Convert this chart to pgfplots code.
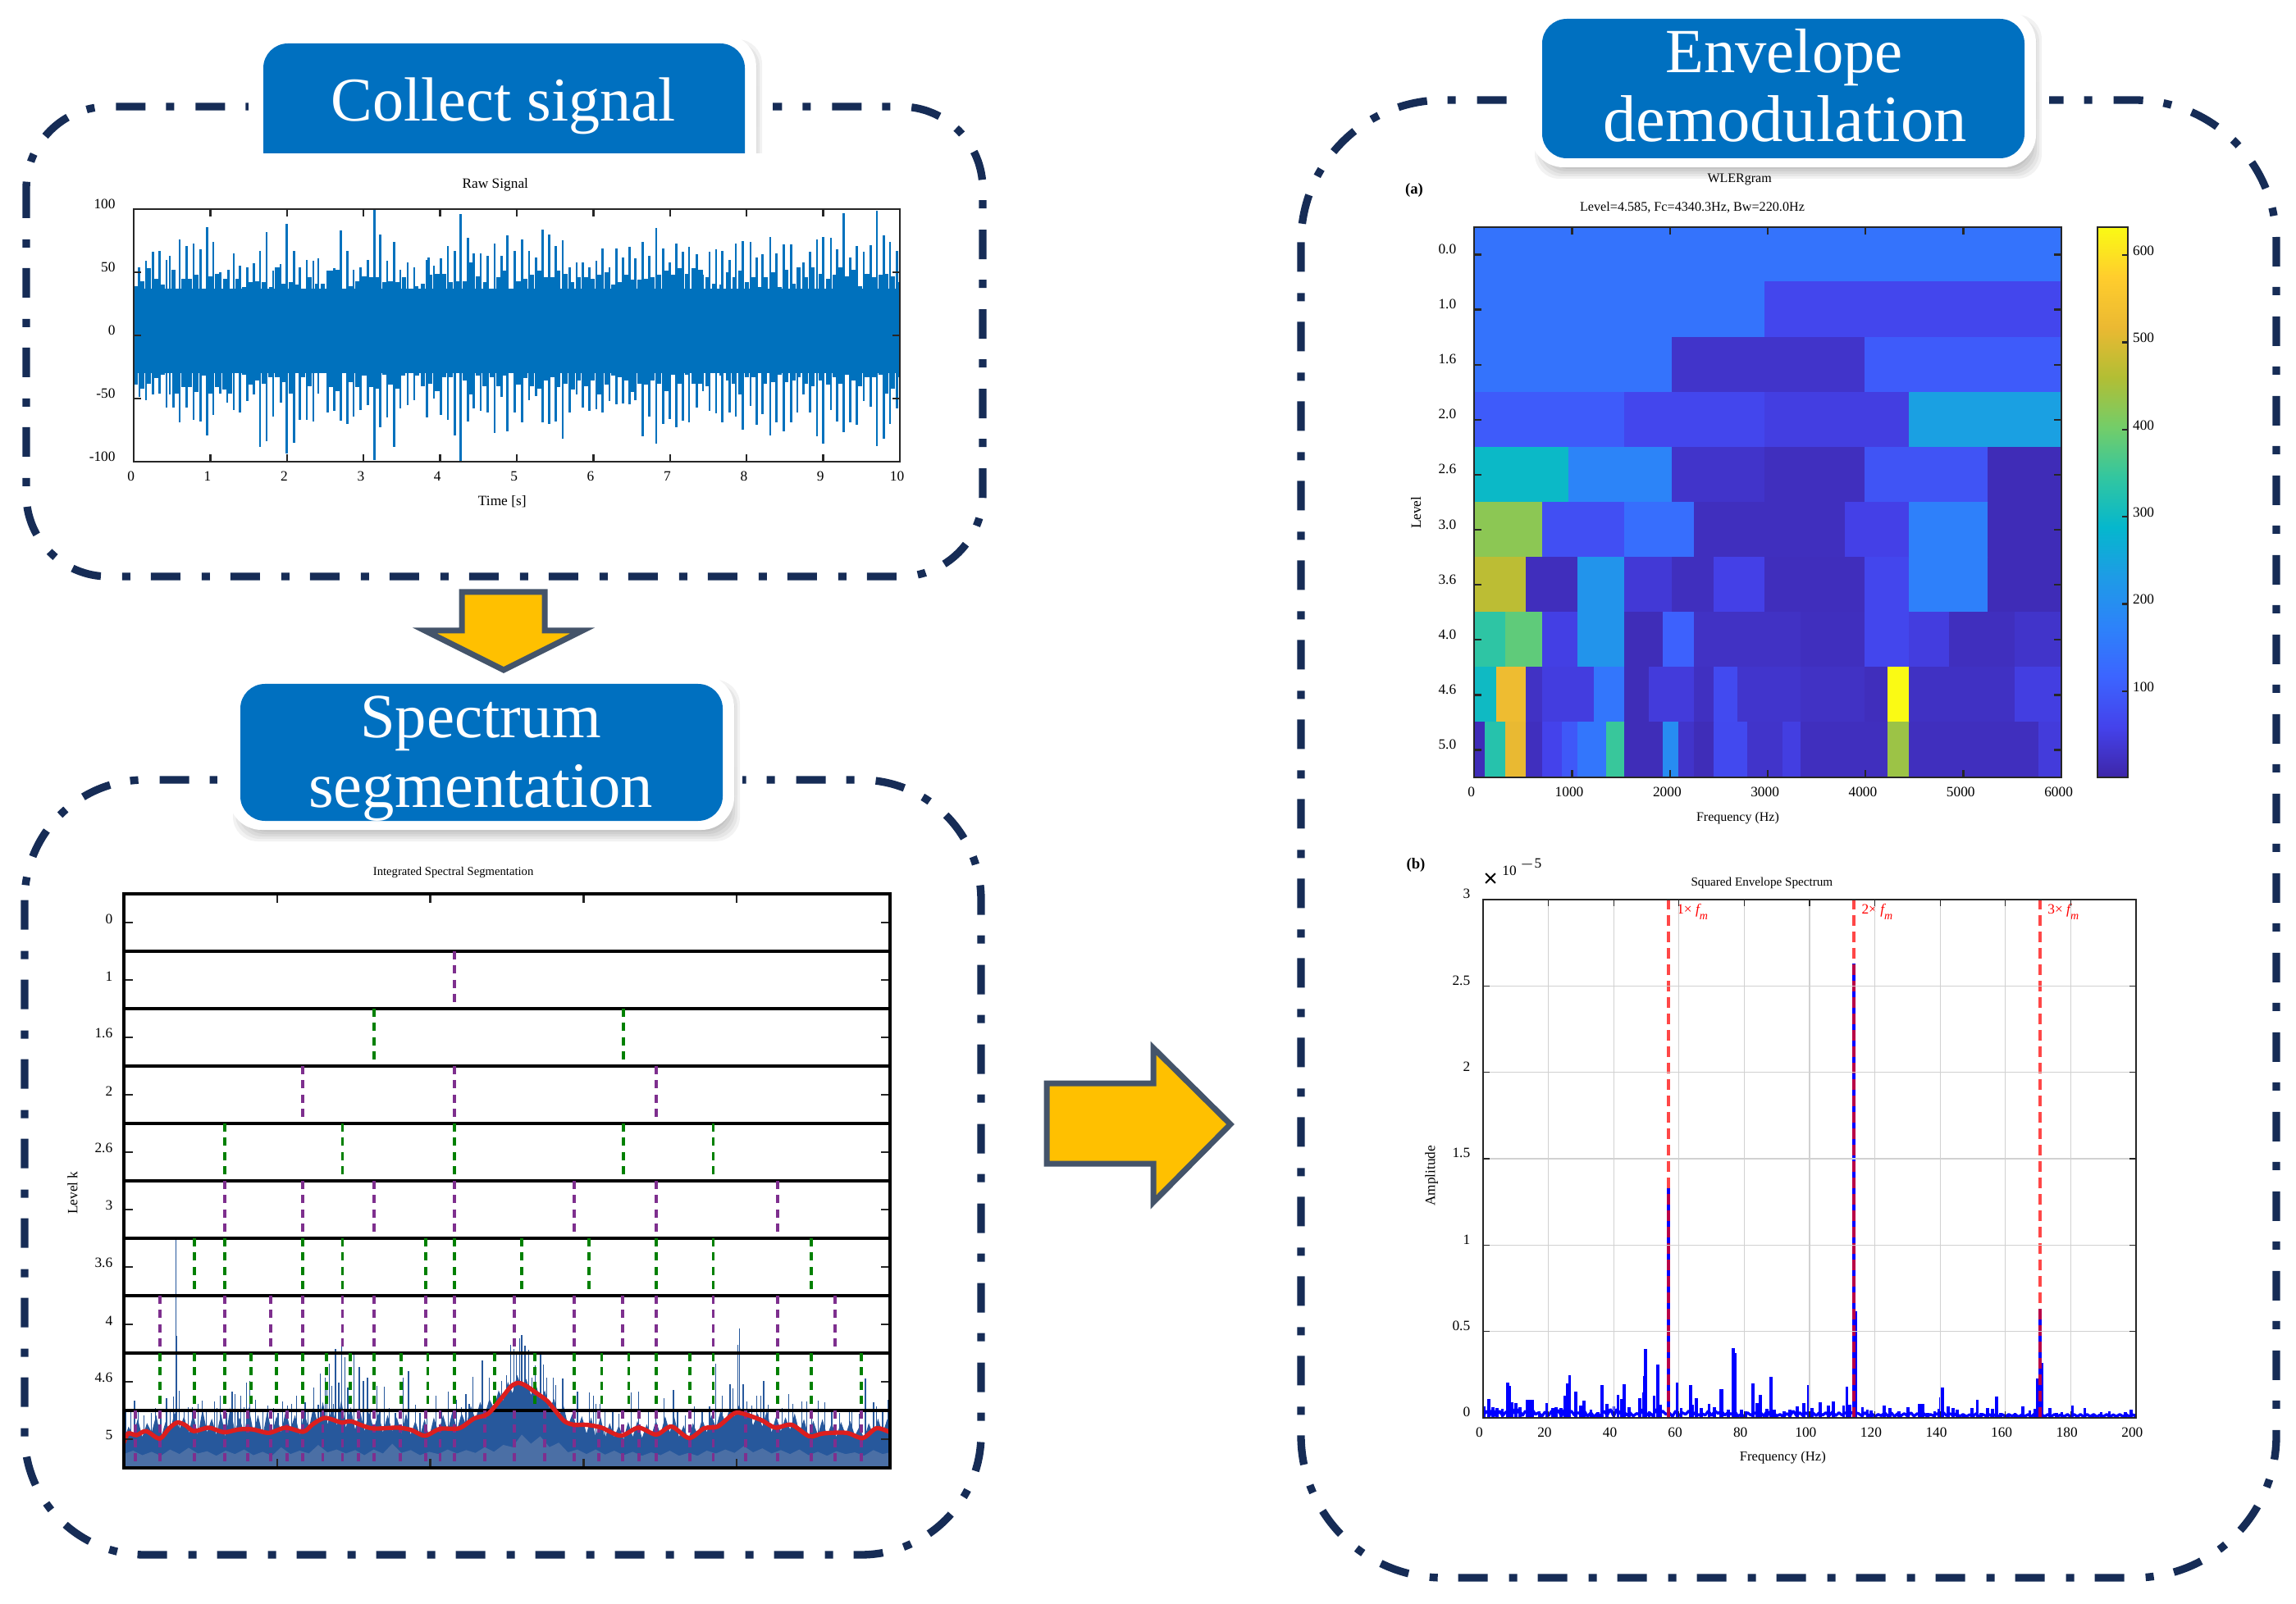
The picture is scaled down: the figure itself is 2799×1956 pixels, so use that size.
\documentclass[border=0pt]{standalone}
\usepackage{fontspec}
\setmainfont{Liberation Serif}
\newfontfamily\sansf{Liberation Sans}
\usepackage{pgfplots}
\pgfplotsset{compat=1.18}
\usetikzlibrary{calc}

\definecolor{framec}{RGB}{22,44,86}
\definecolor{boxc}{RGB}{0,112,192}
\definecolor{arrowf}{RGB}{255,192,0}
\definecolor{arrowb}{RGB}{68,84,106}
\definecolor{axc}{RGB}{38,38,38}
\definecolor{rawc}{RGB}{0,113,189}
\definecolor{specd}{RGB}{39,88,156}
\definecolor{specl}{RGB}{75,111,165}
\definecolor{purp}{RGB}{126,47,142}
\definecolor{grn}{RGB}{0,128,0}
\definecolor{redl}{RGB}{220,30,30}

\newcommand{\sm}{\fontsize{5.2}{6}\selectfont}
\newcommand{\titlebox}[4]{%
  \foreach \g in {0,3,...,15} {
    \fill[black,opacity=.05,rounded corners=9pt] ({#1+6-\g},{#2+10-\g}) rectangle ({#3+6+\g},{#4+10+\g});
  }
  \fill[white,rounded corners=12pt] ({#1-14},{#2-11}) rectangle ({#3+14},{#4+11});
  \fill[boxc,rounded corners=9pt] (#1,#2) rectangle (#3,#4);
}
\newcommand{\fm}{{\itshape f}\raisebox{-2.2pt}{\fontsize{4.2}{5}\selectfont\itshape m}}

\pgfplotsset{
  sheet/.style={
    scale only axis,
    anchor=north west,
    axis on top,
    tick align=inside,
    axis line style={draw=axc,line width=.7pt},
    major tick style={draw=axc,line width=.7pt},
    major tick length=2.8pt,
    tick pos=both,
    font=\sm,
    tick label style={font=\sm},
    every axis title shift=0pt,
    title style={font=\sm,anchor=center},
    /pgf/number format/assume math mode=true,
    /pgf/number format/1000 sep={},
    scaled ticks=false,
  },
  colormap={parula}{
    rgb255(0cm)=(62,38,168);
    rgb255(1cm)=(68,66,235);
    rgb255(2cm)=(60,100,255);
    rgb255(3cm)=(45,130,250);
    rgb255(4cm)=(30,155,230);
    rgb255(5cm)=(5,183,205);
    rgb255(6cm)=(50,198,160);
    rgb255(7cm)=(115,205,105);
    rgb255(8cm)=(178,190,52);
    rgb255(9cm)=(235,185,50);
    rgb255(10cm)=(255,205,45);
    rgb255(11cm)=(250,250,20)
  },
}

\begin{document}
\begin{tikzpicture}[x=0.3pt,y=-0.3pt]
\useasboundingbox (0,0) rectangle (2799,1956);

% dash-dot frames
\begin{scope}[draw=framec,line width=2.8pt,dash pattern=on 10.8pt off 7.8pt on 3pt off 7.5pt]
\draw[rounded corners=30pt] (32,130) rectangle (1198,703);
\draw[rounded corners=44pt] (30,951) rectangle (1196,1896);
\draw[rounded corners=52pt] (1586,122) rectangle (2775,1924);
\end{scope}
\fill[white] (303,105) rectangle (942,155);
\fill[white] (265,935) rectangle (905,970);
\fill[white] (1860,100) rectangle (2498,145);

% title boxes
\begin{scope}
\clip (280,20) rectangle (980,187);
\titlebox{321}{53}{908}{230}
\end{scope}
\titlebox{293}{834}{881}{1001}
\titlebox{1880}{23}{2468}{193}
\node[white,font=\fontsize{22.8}{24}\selectfont,anchor=base] at (614,148) {Collect signal};
\node[white,font=\fontsize{23}{26}\selectfont,anchor=base] at (586,900) {Spectrum};
\node[white,font=\fontsize{23.6}{26}\selectfont,anchor=base] at (586,984) {segmentation};
\node[white,font=\fontsize{23}{26}\selectfont,anchor=base] at (2175,89) {Envelope};
\node[white,font=\fontsize{24.2}{26}\selectfont,anchor=base] at (2176,173) {demodulation};

% block arrows
\draw[fill=arrowf,draw=arrowb,line width=2.1pt,miter limit=10]
  (563,722)--(664,722)--(664,769)--(710,769)--(614,817)--(518,769)--(563,769)--cycle;
\draw[fill=arrowf,draw=arrowb,line width=2.1pt,miter limit=3]
  (1276,1321)--(1406,1321)--(1406,1278)--(1500,1371)--(1406,1466)--(1406,1419)--(1276,1419)--cycle;

% raw signal
\begin{axis}[sheet,at={(48.9pt,-76.5pt)},width=280.2pt,height=92.4pt,
  xmin=0,xmax=10,ymin=-100,ymax=100,
  xtick={0,1,...,10},ytick={-100,-50,0,50,100},
  title={Raw Signal},title style={at={(axis description cs:.472,1.097)}},
  xlabel={Time [s]},xlabel style={at={(axis description cs:.481,-.159)},anchor=center},
  xticklabel style={xshift=-1pt},yticklabel style={xshift=-3.2pt,yshift=2pt},
]
\addplot[fill=rawc,draw=none] coordinates {(0,37)(10,37)} \closedcycle;
\addplot[fill=rawc,draw=none] coordinates {(0,-30)(10,-30)} \closedcycle;
% mid-height comb along the edge of the band
\addplot[ycomb,rawc,line width=1.6pt,mark=none] coordinates {
(.02,39)(.11,43)(.20,53)(.30,45)(.38,40)(.52,52)(.645,45)(.735,45)(.82,48)(.91,36)(1.00,47)(1.09,49)(1.20,45)(1.36,45)(1.44,38)(1.52,42)(1.61,43)(1.70,42)(1.79,38)(1.875,54)(1.96,41)(2.05,42)(2.135,40)(2.22,34)(2.30,46)(2.39,41)(2.47,41)(2.57,51)(2.66,52)(2.75,35)(2.83,39)(2.92,43)(3.01,47)(3.10,46)(3.18,46)(3.27,42)(3.35,43)(3.44,42)(3.53,46)(3.61,31)(3.69,39)(3.775,41)(3.87,48)(3.96,49)(4.05,49)(4.14,42)(4.23,43)(4.32,43)(4.40,58)(4.49,47)(4.585,42)(4.67,37)(4.76,46)(4.84,51)(4.93,35)(5.01,38)
(5.02,43)(5.11,45)(5.20,48)(5.29,51)(5.38,46)(5.46,46)(5.54,51)(5.64,49)(5.72,42)(5.81,46)(5.90,46)(5.99,45)(6.08,48)(6.17,50)(6.26,40)(6.35,42)(6.43,48)(6.51,44)(6.60,44)(6.69,45)(6.77,46)(6.86,48)(6.95,51)(7.04,48)(7.13,53)(7.22,49)(7.31,53)(7.40,52)(7.49,46)(7.58,41)(7.67,40)(7.76,50)(7.84,46)(7.92,51)(8.00,42)(8.09,46)(8.18,38)(8.25,46)(8.34,50)(8.43,38)(8.52,52)(8.61,41)(8.68,54)(8.77,46)(8.86,54)(8.97,49)(9.06,45)(9.15,48)(9.23,54)(9.31,47)(9.40,52)(9.48,39)(9.57,49)(9.66,46)(9.75,48)(9.82,49)(9.91,47)(9.98,42)
(.02,-39)(.11,-42)(.20,-38)(.30,-34)(.38,-31)(.56,-46)(.645,-41)(.735,-41)(.82,-45)(.91,-32)(1.00,-46)(1.09,-41)(1.18,-43)(1.26,-46)(1.35,-27)(1.44,-31)(1.52,-39)(1.61,-35.5)(1.70,-38)(1.78,-33)(1.875,-33)(1.96,-37)(2.05,-46)(2.135,-29)(2.21,-33)(2.30,-40)(2.46,-30)(2.57,-41)(2.66,-44)(2.75,-27)(2.83,-37)(2.92,-41)(3.01,-32)(3.10,-41)(3.18,-42)(3.27,-31)(3.35,-39)(3.44,-42)(3.52,-32)(3.61,-25)(3.70,-32)(3.775,-40)(3.87,-38)(3.96,-44)(4.05,-33)(4.14,-33)(4.23,-27)(4.32,-35.5)(4.40,-47)(4.49,-32)(4.58,-40)(4.67,-33)(4.76,-40)(4.84,-32)(4.93,-29)(5.02,-39)
(5.11,-34)(5.20,-40)(5.29,-42)(5.38,-35.5)(5.46,-33)(5.54,-41)(5.64,-38)(5.73,-43)(5.81,-35.5)(5.90,-40)(5.99,-35.5)(6.08,-47)(6.17,-39)(6.26,-32)(6.35,-33)(6.43,-35.5)(6.51,-45)(6.60,-38)(6.69,-39)(6.77,-35.5)(6.86,-38)(6.96,-44)(7.04,-31)(7.13,-38)(7.22,-31)(7.31,-38)(7.40,-38)(7.49,-40)(7.58,-29)(7.67,-32)(7.76,-35.5)(7.83,-38)(7.92,-47)(8.00,-33)(8.09,-33)(8.16,-27)(8.24,-38)(8.34,-37)(8.43,-31)(8.52,-37)(8.61,-35.5)(8.68,-33)(8.77,-38)(8.86,-40)(8.97,-35.5)(9.06,-39)(9.15,-33)(9.23,-38)(9.31,-31)(9.40,-35.5)(9.48,-40)(9.57,-33)(9.66,-33)(9.75,-31)(9.82,-46)(9.91,-42)(9.98,-33)
};
% tall spikes
\addplot[ycomb,rawc,line width=.8pt,mark=none] coordinates {
(.07,54)(.16,59)(.25,66)(.34,67)(.43,60)(.47,63)(.60,76)(.69,71)(.78,72.5)(.87,68)(.955,86)(1.04,74)(1.13,50)(1.24,52)(1.305,65)(1.39,55)(1.48,54)(1.565,57)(1.65,67)(1.735,82)(1.82,51)(1.915,56.5)(2.00,88)(2.09,67)(2.17,54)(2.26,60)(2.345,59)(2.41,61)(2.53,51)(2.62,53)(2.70,83)(2.79,67)(2.87,52)(2.96,54)(3.055,60)(3.14,100)(3.22,80)(3.31,59)(3.40,74)(3.48,52)(3.575,58)(3.66,54)(3.83,60)(3.85,62)(3.92,55)(4.01,61)(4.10,71)(4.19,67)(4.27,96)(4.36,77)(4.44,65)(4.53,65)(4.62,63)(4.71,72.5)(4.80,63)(4.88,79)(4.97,67)
(5.07,76)(5.16,67)(5.25,61.5)(5.34,83.5)(5.42,80)(5.51,71)(5.60,75)(5.69,54)(5.78,57.5)(5.865,57.5)(5.95,54)(6.04,59)(6.12,68.6)(6.21,54)(6.30,68.6)(6.39,62)(6.47,70)(6.55,61)(6.645,74)(6.73,63)(6.82,85)(6.91,69)(7.00,57.5)(7.08,72.5)(7.165,66)(7.25,70)(7.35,64)(7.43,48)(7.515,66)(7.60,68)(7.68,67)(7.78,60)(7.86,72.7)(7.95,74.5)(8.05,74)(8.13,62)(8.21,64)(8.31,78)(8.39,65)(8.485,72)(8.58,72)(8.66,50)(8.745,58)(8.83,66)(8.92,76)(9.00,78)(9.10,77)(9.18,68)(9.27,96.5)(9.355,61.5)(9.44,70.6)(9.53,66)(9.62,71.6)(9.70,98.5)(9.79,79)(9.87,74)(9.96,67)
(.075,-48.5)(.16,-51)(.25,-47)(.34,-46)(.43,-57)(.47,-47)(.52,-57)(.60,-69)(.69,-57)(.78,-67)(.87,-68)(.955,-79)(1.04,-63)(1.13,-46)(1.22,-53)(1.305,-59)(1.39,-61)(1.48,-52)(1.565,-47)(1.65,-88.5)(1.735,-83.5)(1.82,-64)(1.92,-53)(2.00,-93.5)(2.09,-85)(2.17,-67)(2.26,-67)(2.345,-68)(2.41,-46)(2.53,-61)(2.62,-60)(2.70,-67.5)(2.79,-70)(2.87,-64)(2.96,-59)(3.055,-55)(3.14,-99)(3.22,-73)(3.31,-65)(3.40,-88.5)(3.48,-58)(3.575,-55)(3.66,-51)(3.83,-65)(3.92,-50)(4.01,-63)(4.10,-67)(4.19,-79)(4.27,-100)(4.36,-68)(4.44,-58)(4.53,-60)(4.62,-61)(4.71,-77)(4.80,-48.5)(4.88,-76)(4.97,-61)
(5.07,-69)(5.16,-51)(5.25,-48)(5.34,-68.6)(5.42,-70)(5.51,-68.5)(5.60,-82)(5.69,-61)(5.78,-47)(5.865,-57)(5.95,-60)(6.04,-58.6)(6.12,-61)(6.21,-52)(6.30,-54.5)(6.39,-54)(6.47,-54.5)(6.55,-51)(6.645,-80)(6.73,-64)(6.82,-86)(6.91,-70)(7.00,-66)(7.08,-73)(7.165,-67.5)(7.25,-69)(7.35,-57)(7.43,-44)(7.515,-60)(7.60,-61.5)(7.68,-69)(7.78,-61)(7.86,-64)(7.95,-75)(8.05,-55.6)(8.13,-71)(8.21,-62.5)(8.31,-79)(8.39,-69)(8.485,-76)(8.58,-69)(8.66,-61)(8.745,-47)(8.83,-61)(8.92,-80)(9.00,-86)(9.10,-59)(9.18,-68)(9.27,-76.6)(9.355,-69)(9.44,-71)(9.53,-52)(9.62,-56.5)(9.70,-87.5)(9.79,-82)(9.87,-70)(9.96,-58)
};
\end{axis}

% integrated spectral segmentation
\begin{axis}[sheet,at={(45.3pt,-327pt)},width=280.2pt,height=210pt,
  xmin=0,xmax=4968,ymin=0,ymax=10,
  xtick={994,1987,2981,3974},xticklabels={},
  ytick={.5,1.5,...,9.5},yticklabels={5,4.6,4,3.6,3,2.6,2,1.6,1,0},
  major tick length=3.4pt,
  axis line style={draw=black,line width=1pt},
  title={Integrated Spectral Segmentation},
  title style={at={(axis description cs:.430,1.037)},font=\fontsize{4.4}{5}\selectfont},
  ylabel={Level k},ylabel style={at={(axis description cs:-.067,.479)},anchor=center},
  yticklabel style={xshift=-.6pt,yshift=1.4pt},
]
% spectrum, dark body
\addplot[fill=specd,draw=none] coordinates {
(0,.47)(30,.72)(60,.58)(90,.85)(120,.54)(150,.78)(180,.62)(210,.92)(240,.52)(270,.80)(300,.64)(330,.98)(360,.67)(390,.90)(420,.60)(450,.95)(480,.56)(510,1.02)(540,.62)(570,.86)(600,.58)(630,.94)(660,.54)(690,1.05)(720,.64)(750,.88)(780,.60)(810,1.06)(840,.62)(870,.92)(900,.56)(930,.98)(960,.60)(990,.90)(1020,.62)(1050,1.0)(1080,.67)(1110,.92)(1140,.58)(1170,.96)(1200,.68)(1230,1.08)(1260,.74)(1290,1.15)(1320,.76)(1350,1.05)(1380,.74)(1410,1.18)(1440,.70)(1470,1.06)(1500,.67)(1530,1.02)(1560,.64)(1590,.98)(1620,.67)(1650,.96)(1680,.62)(1710,.92)(1740,.64)(1770,.88)(1800,.60)(1830,.95)(1860,.58)(1890,.82)(1920,.56)(1950,.85)(1980,.54)(2010,.88)(2040,.62)(2070,.92)(2100,.64)(2130,.98)(2160,.67)(2190,.95)(2220,.74)(2250,1.08)(2280,.84)(2310,1.15)(2340,.92)(2370,1.2)(2400,1.04)(2430,1.35)(2460,1.17)(2490,1.5)(2520,1.30)(2550,1.62)(2580,1.40)(2610,1.55)(2640,1.27)(2670,1.48)(2700,1.17)(2730,1.35)(2760,1.04)(2790,1.2)(2820,.90)(2850,1.1)(2880,.74)(2910,.95)(2940,.67)(2970,.9)(3000,.60)(3030,.88)(3060,.54)(3090,.9)(3120,.52)(3150,.78)(3180,.54)(3210,.74)(3240,.50)(3270,.8)(3300,.54)(3330,.82)(3360,.52)(3390,.76)(3420,.56)(3450,.82)(3480,.58)(3510,.9)(3540,.62)(3570,.88)(3600,.54)(3630,.74)(3660,.48)(3690,.78)(3720,.58)(3750,.85)(3780,.62)(3810,.92)(3840,.70)(3870,1.0)(3900,.80)(3930,1.05)(3960,.90)(3990,1.1)(4020,.84)(4050,1.02)(4080,.74)(4110,.95)(4140,.72)(4170,1.0)(4200,.62)(4230,.9)(4260,.64)(4290,.88)(4320,.67)(4350,.95)(4380,.62)(4410,.85)(4440,.54)(4470,.82)(4500,.58)(4530,.85)(4560,.56)(4590,.78)(4620,.54)(4650,.8)(4680,.58)(4710,.82)(4740,.56)(4770,.72)(4800,.50)(4830,.78)(4860,.57)(4890,.86)(4920,.60)(4950,.85)(4968,.62)
} \closedcycle;
% spectrum, separate peaks
\addplot[ycomb,specd,line width=.38pt,mark=none] coordinates {
(69,1.17)(179,.95)(277,1.22)(321,1.24)(337,3.98)(342,2.3)(360,1.34)(418,1.05)(480,1.12)(509,1.17)(587,1.15)(626,1.26)(702,1.33)(720,1.29)(757,1.25)(794,1.49)(817,1.52)(853,1.19)(933,1.09)(1030,1.15)(1087,1.11)(1119,1.26)(1175,1.14)(1230,1.40)(1273,1.64)(1305,1.57)(1317,1.45)(1331,1.82)(1349,1.43)(1372,2.07)(1394,1.48)(1413,2.12)(1433,1.93)(1452,1.40)(1491,1.98)(1527,1.76)(1553,1.52)(1580,1.57)(1642,1.43)(1690,1.41)(1810,1.57)(1846,1.68)(1890,1.10)(2023,1.26)(2103,1.33)(2156,1.19)(2218,1.29)(2262,1.58)(2324,1.87)(2369,1.57)(2448,1.52)(2480,1.62)(2507,2.14)(2530,2.07)(2545,2.0)(2566,2.26)(2580,2.31)(2601,2.13)(2623,2.05)(2646,1.57)(2667,1.79)(2702,2.02)(2720,1.80)(2743,1.57)(2784,1.57)(2800,1.44)(2846,1.55)(2942,1.33)(3018,1.31)(3045,1.26)(3062,1.12)(3089,1.12)(3289,1.31)(3337,1.33)(3502,1.21)(3564,1.36)(3701,1.07)(3798,1.07)(3837,1.82)(3881,1.26)(3931,1.45)(3949,1.39)(3981,2.14)(3993,2.43)(4016,1.45)(4038,1.15)(4103,1.26)(4130,1.26)(4149,1.52)(4179,1.10)(4312,1.29)(4339,1.12)(4397,1.15)(4428,1.15)(4502,1.17)(4546,1.14)(4703,1.02)(4809,1.55)(4862,1.14)(4880,1.07)(4954,1.19)
(15,.98)(45,1.02)(95,1.0)(130,.92)(205,1.04)(240,.95)(300,1.02)(390,1.0)(445,1.06)(535,.98)(605,1.04)(665,.95)(740,1.02)(780,1.05)(900,.98)(970,1.04)(1000,.96)(1060,1.08)(1150,1.0)(1195,1.02)(1260,1.1)(1360,1.12)(1600,1.02)(1660,1.0)(1720,1.04)(1760,.96)(1920,.95)(1965,1.02)(2060,1.0)(2190,1.06)(2240,1.12)(3120,.98)(3170,1.02)(3210,.94)(3400,1.0)(3450,.96)(3590,1.0)(3640,.92)(3750,1.02)(4070,1.08)(4230,1.02)(4270,1.04)(4460,1.02)(4590,1.0)(4640,.96)(4720,.98)(4770,.94)(4920,1.0)
};
% spectrum, pale floor
\addplot[fill=specl,draw=none] coordinates {
(0,.24)(60,.3)(120,.22)(180,.28)(240,.21)(300,.32)(360,.24)(420,.35)(480,.25)(540,.29)(600,.21)(660,.3)(720,.24)(780,.32)(840,.22)(900,.28)(960,.21)(1020,.36)(1080,.24)(1140,.3)(1200,.25)(1260,.4)(1320,.27)(1380,.32)(1440,.25)(1500,.31)(1560,.22)(1620,.32)(1680,.25)(1740,.42)(1800,.26)(1860,.31)(1920,.22)(1980,.28)(2040,.24)(2100,.32)(2160,.25)(2220,.31)(2280,.26)(2340,.36)(2400,.28)(2460,.4)(2520,.36)(2580,.58)(2640,.42)(2700,.55)(2760,.36)(2820,.44)(2880,.27)(2940,.32)(3000,.24)(3060,.32)(3120,.23)(3180,.3)(3240,.22)(3300,.28)(3360,.21)(3420,.27)(3480,.22)(3540,.3)(3600,.21)(3660,.26)(3720,.21)(3780,.3)(3840,.25)(3900,.32)(3960,.26)(4020,.38)(4080,.27)(4140,.34)(4200,.25)(4260,.31)(4320,.24)(4380,.32)(4440,.22)(4500,.28)(4560,.21)(4620,.29)(4680,.24)(4740,.27)(4800,.21)(4860,.31)(4920,.24)(4968,.27)
} \closedcycle;
% row rules
\pgfplotsinvokeforeach{1,...,9}{\addplot[black,line width=1.05pt,forget plot] coordinates {(0,#1)(4968,#1)};}
% segment boundaries: each level starts at the rule above it
\pgfplotsset{
  seg/.style={draw=none,mark=none,error bars/.cd,y dir=minus,y fixed=.88,error mark=none,
    error bar style={draw=#1,solid,line width=1.1pt,dash pattern=on 3pt off 2.25pt}},
}
\addplot[seg=purp] coordinates {(2144,9)};
\addplot[seg=grn] coordinates {(1622,8)(3240,8)};
\addplot[seg=purp] coordinates {(1161,7)(2144,7)(3452,7)};
\addplot[seg=grn] coordinates {(654,6)(1417,6)(2144,6)(3240,6)(3821,6)};
\addplot[seg=purp] coordinates {(654,5)(1161,5)(1622,5)(2144,5)(2921,5)(3452,5)(4240,5)};
\addplot[seg=grn] coordinates {(457,4)(654,4)(1161,4)(1417,4)(1957,4)(2144,4)(2580,4)(3016,4)(3452,4)(3821,4)(4459,4)};
\addplot[seg=purp] coordinates {(234,3)(654,3)(952,3)(1161,3)(1417,3)(1622,3)(1957,3)(2144,3)(2532,3)(2921,3)(3234,3)(3452,3)(3821,3)(4240,3)(4612,3)};
\addplot[seg=grn] coordinates {(234,2)(457,2)(654,2)(824,2)(991,2)(1161,2)(1314,2)(1468,2)(1622,2)(1798,2)(1970,2)(2144,2)(2404,2)(2665,2)(2921,2)(3098,2)(3273,2)(3452,2)(3671,2)(3821,2)(4240,2)(4459,2)(4782,2)};
\addplot[seg=purp] coordinates {(74,1)(234,1)(457,1)(654,1)(803,1)(952,1)(1058,1)(1161,1)(1289,1)(1417,1)(1521,1)(1622,1)(1791,1)(1957,1)(2050,1)(2144,1)(2340,1)(2532,1)(2729,1)(2921,1)(3080,1)(3234,1)(3342,1)(3452,1)(3671,1)(3821,1)(4032,1)(4240,1)(4459,1)(4612,1)(4782,1)};
% smoothed spectrum
\addplot[redl,line width=1.6pt,smooth,tension=.5] coordinates {
(0,.44)(28,.60)(82,.57)(144,.64)(232,.51)(294,.69)(347,.79)(401,.74)(454,.64)(551,.70)(649,.62)(746,.67)(835,.67)(941,.61)(1048,.70)(1163,.63)(1225,.76)(1305,.87)(1411,.79)(1473,.81)(1606,.69)(1775,.70)(1863,.66)(1952,.56)(2050,.68)(2174,.69)(2271,.86)(2360,.94)(2448,1.21)(2511,1.42)(2557,1.48)(2601,1.44)(2672,1.31)(2743,1.17)(2796,1.0)(2858,.81)(2921,.75)(3000,.75)(3098,.70)(3222,.56)(3337,.70)(3452,.58)(3550,.72)(3665,.52)(3763,.69)(3851,.72)(3958,.95)(4020,.94)(4135,.83)(4224,.70)(4330,.75)(4445,.55)(4534,.60)(4685,.61)(4791,.52)(4880,.69)(4968,.62)
};
\end{axis}

% WLERgram
\begin{axis}[sheet,at={(539.1pt,-83.1pt)},width=214.8pt,height=201.3pt,
  xmin=0,xmax=6000,ymin=0,ymax=10,y dir=reverse,
  xtick={0,1000,...,6000},
  ytick={.5,1.5,...,9.5},yticklabels={0.0,1.0,1.6,2.0,2.6,3.0,3.6,4.0,4.6,5.0},
  point meta min=1,point meta max=632,colormap name=parula,
  title={WLERgram},title style={at={(axis description cs:.452,1.086)},font=\fontsize{4.8}{5.5}\selectfont},
  xlabel={Frequency (Hz)},
  xlabel style={at={(axis description cs:.449,-.0745)},anchor=center,font=\fontsize{4.8}{5.5}\selectfont},
  ylabel={Level},ylabel style={at={(axis description cs:-.099,.481)},anchor=center},
  xticklabel style={xshift=-1pt},yticklabel style={xshift=-3pt,yshift=2pt},
  colorbar,
  colorbar style={at={(1.0615,1)},anchor=north west,width=11pt,height=201.3pt,
    ytick={100,200,...,600},ymin=1,ymax=632,tick pos=right,tick align=inside,
    axis line style={draw=axc,line width=.7pt},major tick length=2pt,
    yticklabel style={font=\sm,yshift=1.6pt,xshift=-1.6pt},
    /pgf/number format/assume math mode=true},
]
% from / to / row / value
\foreach \a/\b/\r/\c in {
0/6000/0/145,
0/2968/1/145, 2968/6000/1/65,
0/2025/2/145, 2025/3991/2/30, 3991/6000/2/100,
0/1535/3/100, 1535/2968/3/65, 2968/4449/3/50, 4449/6000/3/240,
0/970/4/295, 970/2025/4/178, 2025/2968/4/30, 2968/3991/4/20, 3991/5254/4/88, 5254/6000/4/14,
0/698/5/425, 698/1535/5/80, 1535/2249/5/135, 2249/3794/5/20, 3794/4449/5/55, 4449/5254/5/170, 5254/6000/5/14,
0/533/6/470, 533/1060/6/18, 1060/1535/6/215, 1535/2025/6/40, 2025/2451/6/20, 2451/2968/6/55, 2968/3991/6/18, 3991/4449/6/65, 4449/5254/6/170, 5254/6000/6/14,
0/325/7/340, 325/698/7/385, 698/1060/7/52, 1060/1535/7/215, 1535/1929/7/15, 1929/2249/7/110, 2249/3341/7/25, 3341/3991/7/20, 3991/4449/7/65, 4449/4860/7/48, 4860/5526/7/20, 5526/6000/7/30,
0/229/8/300, 229/533/8/525, 533/698/8/25, 698/1226/8/48, 1226/1535/8/150, 1535/1790/8/15, 1790/2249/8/45, 2249/2451/8/22, 2451/2696/8/72, 2696/3341/8/32, 3341/3991/8/25, 3991/4226/8/18, 4226/4449/8/632, 4449/5526/8/24, 5526/6000/8/50,
0/112/9/15, 112/325/9/330, 325/533/9/515, 533/698/9/20, 698/906/9/58, 906/1060/9/95, 1060/1353/9/150, 1353/1535/9/350, 1535/1929/9/15, 1929/2089/9/195, 2089/2249/9/30, 2249/2451/9/15, 2451/2792/9/70, 2792/3155/9/30, 3155/3341/9/50, 3341/4226/9/20, 4226/4449/9/440, 4449/5771/9/20, 5771/6000/9/45%
}{
  \pgfmathtruncatemacro{\rr}{\r+1}
  \edef\cellplot{\noexpand\addplot[patch,patch type=rectangle,shader=flat,point meta=explicit,forget plot]
    coordinates {(\a,\r)[\c] (\b,\r)[\c] (\b,\rr)[\c] (\a,\rr)[\c]};}
  \cellplot
}
\end{axis}

% squared envelope spectrum
\begin{axis}[sheet,at={(542.4pt,-329.1pt)},width=238.8pt,height=189.6pt,
  xmin=0,xmax=200,ymin=0,ymax=3,
  xtick={0,20,...,200},ytick={0,.5,...,3},
  yticklabels={0,0.5,1,1.5,2,2.5,3},
  axis line style={draw=axc,line width=.4pt},
  major tick style={draw=axc,line width=.4pt},
  major tick length=2.4pt,
  grid=major,major grid style={draw=black!18,line width=.35pt},
  title={Squared Envelope Spectrum},
  title style={at={(axis description cs:.427,1.032)},font=\fontsize{4.55}{5.5}\selectfont},
  xlabel={Frequency (Hz)},xlabel style={at={(axis description cs:.459,-.0775)},anchor=center,font=\fontsize{5}{6}\selectfont},
  ylabel={Amplitude},ylabel style={at={(axis description cs:-.079,.467)},anchor=center},
  xticklabel style={xshift=-1.4pt},yticklabel style={xshift=-1.2pt,yshift=2pt},
]
\addplot[blue,line width=1pt,line join=bevel] coordinates {
(0,.01)(1,.04)(2,.015)(3,.05)(4,.01)(5,.04)(6,.012)(7,.035)(8,.02)(9,.05)(10,.02)(11,.05)(12,.012)(13,.04)(14,.015)(15,.05)(16,.02)(17,.03)(18,.008)(19,.035)(20,.012)(21,.04)(22,.015)(23,.045)(24,.01)(25,.05)(26,.02)(27,.04)(28,.015)(29,.03)(30,.02)(31,.04)(32,.008)(33,.03)(34,.006)(35,.025)(36,.012)(37,.04)(38,.015)(39,.05)(40,.01)(41,.05)(42,.025)(43,.04)(44,.015)(45,.03)(46,.01)(47,.025)(48,.02)(49,.05)(50,.015)(51,.03)(52,.01)(53,.05)(54,.02)(55,.04)(56,.02)(57,.03)(58,.008)(59,.04)(60,.012)(61,.03)(62,.02)(63,.04)(64,.015)(65,.03)(66,.015)(67,.025)(68,.015)(69,.04)(70,.012)(71,.04)(72,.025)(73,.04)(74,.015)(75,.03)(76,.02)(77,.04)(78,.01)(79,.02)(80,.01)(81,.03)(82,.015)(83,.03)(84,.02)(85,.03)(86,.01)(87,.04)(88,.015)(89,.025)(90,.012)(91,.02)(92,.006)(93,.025)(94,.012)(95,.04)(96,.012)(97,.03)(98,.012)(99,.03)(100,.01)
(101,.03)(102,.012)(103,.03)(104,.015)(105,.03)(106,.012)(107,.035)(108,.012)(109,.03)(110,.015)(111,.03)(112,.02)(113,.03)(114,.03)(115,.025)(116,.012)(117,.03)(118,.012)(119,.025)(120,.008)(121,.02)(122,.012)(123,.03)(124,.01)(125,.03)(126,.008)(127,.025)(128,.012)(129,.025)(130,.01)(131,.03)(132,.01)(133,.025)(134,.012)(135,.025)(136,.008)(137,.02)(138,.012)(139,.025)(140,.008)(141,.03)(142,.012)(143,.025)(144,.012)(145,.025)(146,.008)(147,.02)(148,.008)(149,.018)(150,.008)(151,.025)(152,.006)(153,.02)(154,.012)(155,.02)(156,.008)(157,.02)(158,.01)(159,.02)(160,.008)(161,.02)(162,.01)(163,.02)(164,.006)(165,.018)(166,.01)(167,.02)(168,.008)(169,.025)(170,.012)(171,.02)(172,.008)(173,.02)(174,.008)(175,.02)(176,.01)(177,.018)(178,.008)(179,.02)(180,.006)(181,.02)(182,.008)(183,.02)(184,.006)(185,.02)(186,.008)(187,.02)(188,.006)(189,.018)(190,.008)(191,.02)(192,.006)(193,.018)(194,.008)(195,.02)(196,.008)(197,.02)(198,.006)(199,.018)(200,.01)
};
\addplot[ycomb,blue,line width=1.1pt,mark=none] coordinates {
(.25,.067)(1.75,.107)(3,.062)(4.25,.059)(5.9,.054)(7.6,.202)(8,.186)(8.8,.091)(10.1,.083)(11.3,.064)(13.4,.104)(14.1,.105)(15.1,.102)(17.2,.04)(19.5,.083)(21.3,.056)(22.3,.064)(23.8,.059)(25.1,.127)(25.9,.199)(26.5,.247)(28.4,.15)(29.9,.07)(30.9,.099)(33,.046)(35.1,.032)(36.5,.19)(38,.08)(40.1,.067)(41.3,.135)(42.3,.107)(43.2,.194)(44.7,.064)(48,.113)(49.25,.146)(49.5,.24)(49.8,.40)(50.9,.04)(52.4,.126)(53.5,.307)(54.4,.078)
(56.8,1.33)(59.6,.204)(60.7,.059)(63.5,.191)(64,.075)(65.4,.115)(66.9,.056)(69.2,.08)(70.9,.062)(72.7,.166)(73.1,.166)(75.1,.046)(76.7,.404)(77.3,.377)(79.2,.046)(80.5,.04)(82.6,.199)(84,.084)(84.9,.132)(87,.051)(88.2,.237)(89.2,.046)(92.2,.04)(93.9,.046)(96.2,.065)(98.3,.084)(99.75,.19)(100.8,.059)(103.3,.088)(105.8,.072)(107.3,.094)(110.4,.072)(111.4,.178)(112.3,.075)
(113.6,2.63)(114.2,.616)(116.2,.06)(117.7,.046)(118.9,.043)(122.9,.07)(124.6,.056)(127.4,.04)(130.2,.062)(133.7,.08)(134.6,.08)(136.2,.027)(138.3,.037)(139.7,.051)(140.2,.119)(140.7,.175)(142.5,.067)(143.9,.056)(145.3,.046)(147.1,.022)(149.7,.056)(151.4,.105)(152.5,.027)(154.6,.056)(156.1,.051)(157.2,.123)(158.5,.027)(160.8,.016)(162.9,.027)(165.4,.065)(167.5,.043)(169,.051)(169.8,.228)
(170.6,.63)(171.2,.32)(173.6,.056)(175.6,.027)(177.3,.032)(180.4,.07)(182.2,.019)(184.3,.056)(186.8,.019)(189.3,.032)(191.8,.04)(194.3,.019)(196.8,.035)(198.5,.046)(199.7,.022)
};
\addplot[red,opacity=.72,line width=1pt,dash pattern=on 4pt off 2pt] coordinates {(56.8,0)(56.8,3)};
\addplot[red,opacity=.72,line width=1pt,dash pattern=on 4pt off 2pt] coordinates {(113.6,0)(113.6,3)};
\addplot[red,opacity=.72,line width=1pt,dash pattern=on 4pt off 2pt] coordinates {(170.6,0)(170.6,3)};
\node[red,anchor=west,font=\sm,inner sep=0pt] at (axis cs:59.2,2.93) {1× \fm};
\node[red,anchor=west,font=\sm,inner sep=0pt] at (axis cs:115.8,2.93) {2× \fm};
\node[red,anchor=west,font=\sm,inner sep=0pt] at (axis cs:172.8,2.93) {3× \fm};
\end{axis}

\node[font=\fontsize{4.85}{6}\selectfont] at (2063,253) {Level=4.585, Fc=4340.3Hz, Bw=220.0Hz};
\node[font=\fontsize{5.6}{6}\selectfont\bfseries] at (1724,232) {(a)};
\node[font=\fontsize{5.6}{6}\selectfont\bfseries] at (1726,1055) {(b)};
\node[font=\fontsize{9}{10}\sansf] at (1817,1073) {×};
\node[font=\sm] at (1840,1062) {10};
\node[font=\sm] at (1866,1054) {$-$5};
\end{tikzpicture}
\end{document}
